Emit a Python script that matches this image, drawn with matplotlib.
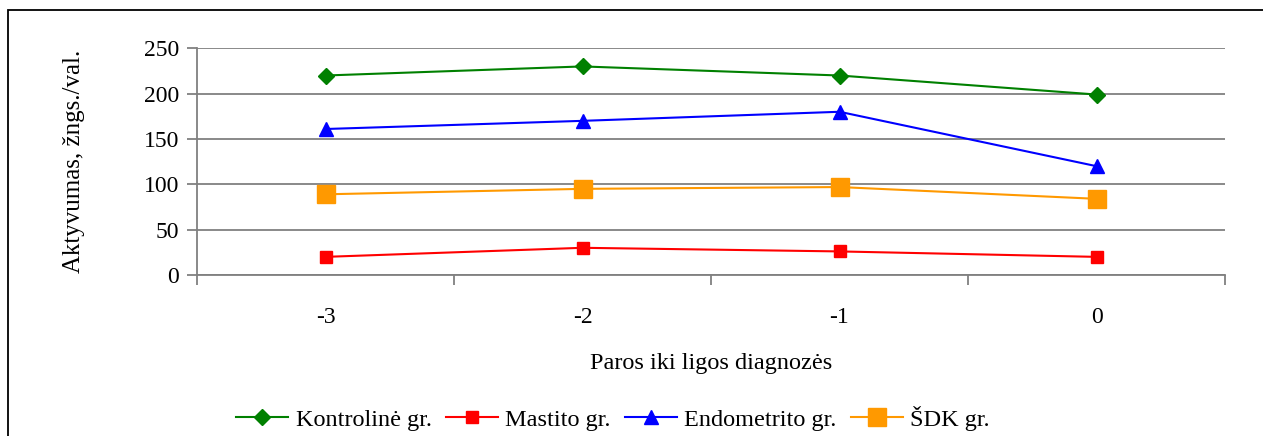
import matplotlib
matplotlib.use("Agg")
import matplotlib.pyplot as plt
from matplotlib.patches import Rectangle

plt.rcParams['font.family'] = ['Liberation Serif', 'DejaVu Serif']

days = ["-3", "-2", "-1", "0"]
kontroline = [220, 230, 220, 199]
mastito = [20, 30, 26, 20]
endometrito = [161, 170, 180, 120]
sdk = [89, 95, 97, 84]

W, H = 1263, 436
fig = plt.figure(figsize=(W / 100, H / 100), dpi=100)

# outer chart frame
fig.patches.append(Rectangle((8 / W, -0.1), 1.2, 1 - 10 / H + 0.1,
                             transform=fig.transFigure, fill=False,
                             edgecolor='black', linewidth=1.3, zorder=0))

ax = fig.add_axes([197 / W, 1 - 275 / H, (1225 - 197) / W, (275 - 48.3) / H])
x = list(range(len(days)))

series = [
    ("Kontrolinė gr.", kontroline, '#008000', 'D', 8),
    ("Mastito gr.", mastito, '#FF0000', 's', 8),
    ("Endometrito gr.", endometrito, '#0000FF', '^', 10.5),
    ("ŠDK gr.", sdk, '#FF9900', 's', 12.5),
]
for name, vals, col, mk, ms in series:
    ax.plot(x, vals, color=col, marker=mk, markersize=ms, linewidth=1.5,
            label=name, zorder=3, clip_on=False)

ax.set_xlim(-0.5, len(days) - 0.5)
ax.set_ylim(0, 250)
ax.set_yticks(range(0, 251, 50))
ax.yaxis.grid(True, color='#808080', linewidth=1.3)
ax.set_axisbelow(True)

# category boundaries as tick marks, labels centred on categories
ax.set_xticks([i - 0.5 for i in range(len(days) + 1)])
ax.set_xticklabels([])
ax.set_xticks(x, minor=True)
ax.set_xticklabels(days, minor=True)
ax.tick_params(axis='x', which='major', direction='out', length=7,
               color='#808080', width=1.3)
ax.tick_params(axis='x', which='minor', length=0, pad=23, labelsize=17)
ax.tick_params(axis='y', direction='out', length=7, color='#808080',
               width=1.3, labelsize=17, pad=6)

for s in ['top', 'right']:
    ax.spines[s].set_visible(False)
for s in ['left', 'bottom']:
    ax.spines[s].set_color('#808080')
    ax.spines[s].set_linewidth(1.3)

fig.text(74 / W, 1 - 161 / H, "Aktyvumas, žngs./val.", rotation=90,
         ha='center', va='center', fontsize=18)
fig.text(711 / W, 1 - 363 / H, "Paros iki ligos diagnozės",
         ha='center', va='center', fontsize=17.5)

fig.legend(loc='center', bbox_to_anchor=(613 / W, 1 - 418 / H), ncol=4,
           frameon=False, fontsize=17.5, handlelength=2.15, handletextpad=0.3,
           columnspacing=0.58, borderpad=0)

fig.savefig("out.png", dpi=100)
